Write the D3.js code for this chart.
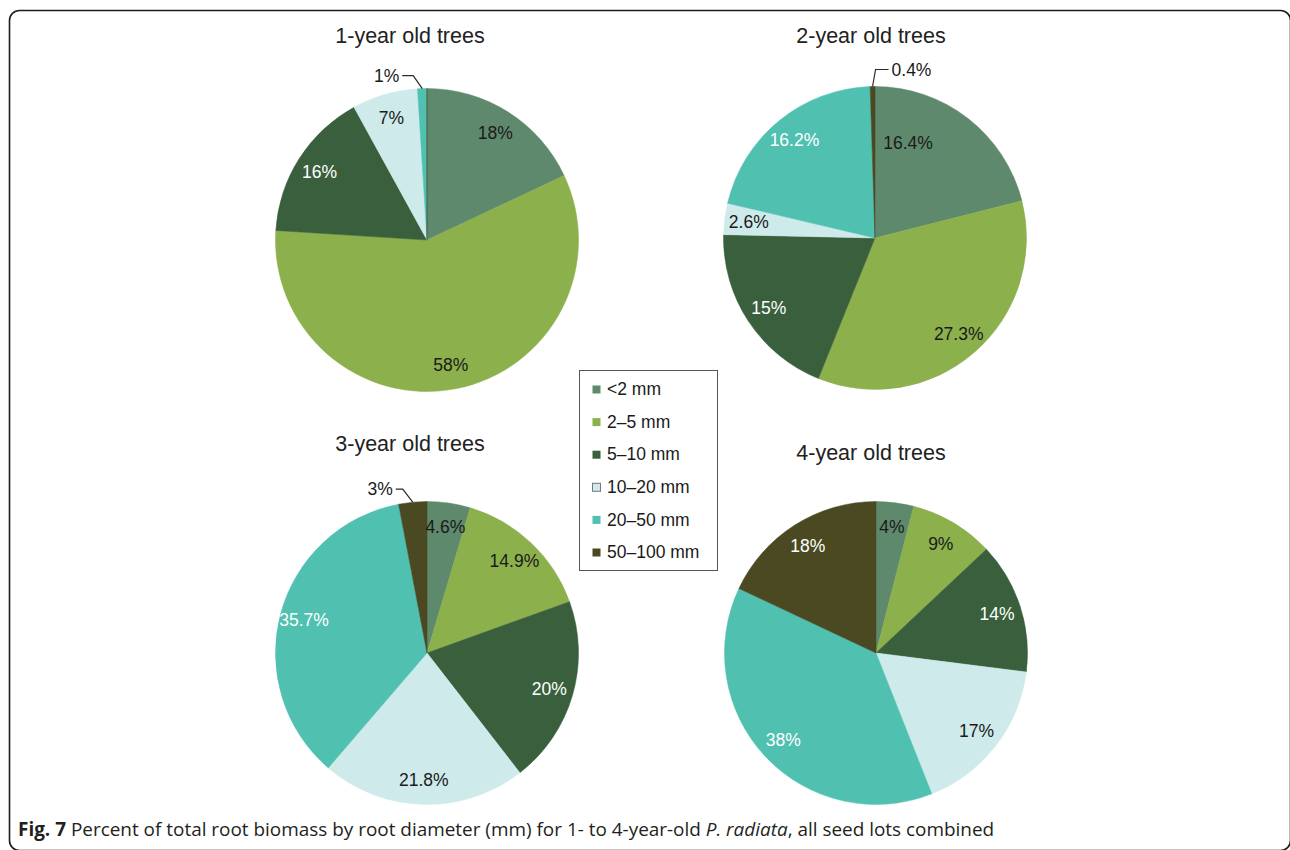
<!DOCTYPE html>
<html>
<head>
<meta charset="utf-8">
<script src="https://cdn.jsdelivr.net/npm/d3@7"></script>
<style>
  html, body { margin: 0; padding: 0; background: #fff; }
  svg { display: block; }
</style>
</head>
<body>
<svg id="fig" width="1290" height="850"></svg>
<script>
// Root diameter classes and their colours
const categories = ["<2 mm", "2–5 mm", "5–10 mm", "10–20 mm", "20–50 mm", "50–100 mm"];
const colors = ["#5f896d", "#8bb04c", "#395f3c", "#ceeaea", "#50c0b1", "#4a4921"];

// Percent of root biomass per class, one array per tree age
const titles = ["1-year old trees", "2-year old trees", "3-year old trees", "4-year old trees"];
const year1 = [18, 58, 16, 7, 1, 0];
const year2 = [16.4, 27.3, 15, 2.6, 16.2, 0.4];
const year3 = [4.6, 14.9, 20, 21.8, 35.7, 3];
const year4 = [4, 9, 14, 17, 38, 18];

const caption = {
  bold: "Fig. 7",
  before: " Percent of total root biomass by root diameter (mm) for 1- to 4-year-old ",
  italic: "P. radiata",
  after: ", all seed lots combined"
};

// Layout of the four panels
const panels = [
  { values: year1, cx: 427, cy: 240, tx: 410, ty: 43 },
  { values: year2, cx: 875, cy: 238, tx: 871, ty: 43 },
  { values: year3, cx: 427, cy: 653, tx: 410, ty: 451 },
  { values: year4, cx: 876, cy: 653, tx: 871, ty: 460 }
];
const R = 151.5;

// Labels that sit away from the slice centroid: [panel, slice] -> tweak
const labelTweaks = {
  "1-0": { da: -18.7, rf: 0.665 }
};
// Small slices labelled outside with a leader line
const callouts = {
  "0-4": { ex: -9, ey: -13, run: -11 },
  "1-5": { ex: 3, ey: -17, run: 13 },
  "2-5": { ex: -10, ey: -13, run: -7 }
};
const whiteText = new Set([2, 4, 5]);

const svg = d3.select("#fig");
const font = "'Liberation Sans', Arial, sans-serif";

svg.append("rect").attr("width", 1290).attr("height", 850).attr("fill", "#fff");

// Rounded frame around the figure
svg.append("rect")
  .attr("x", 9.5).attr("y", 10.5)
  .attr("width", 1281).attr("height", 840)
  .attr("rx", 10).attr("ry", 10)
  .attr("fill", "none").attr("stroke", "#1c1c1c").attr("stroke-width", 1.6);

const pie = d3.pie().sort(null).value(d => d).startAngle(0).endAngle(2 * Math.PI);
const arc = d3.arc().innerRadius(0).outerRadius(R);
const fmt = v => `${v}%`;

panels.forEach((p, pi) => {
  const g = svg.append("g").attr("transform", `translate(${p.cx},${p.cy})`);
  const arcs = pie(p.values);

  g.selectAll("path.slice")
    .data(arcs)
    .join("path")
    .attr("class", "slice")
    .attr("d", arc)
    .attr("fill", (d, i) => colors[i])
    .attr("stroke", (d, i) => colors[i])
    .attr("stroke-width", 0.5);

  arcs.forEach((d, i) => {
    if (d.data <= 0) return;
    const key = `${pi}-${i}`;
    const mid = (d.startAngle + d.endAngle) / 2;
    if (callouts[key]) {
      const c = callouts[key];
      const ax = R * Math.sin(mid), ay = -R * Math.cos(mid);
      const bx = ax + c.ex, by = ay + c.ey;
      const cx2 = bx + c.run;
      g.append("path")
        .attr("d", `M${ax},${ay}L${bx},${by}L${cx2},${by}`)
        .attr("fill", "none").attr("stroke", "#2a2a2a").attr("stroke-width", 1.2);
      g.append("text")
        .attr("x", cx2 + (c.run < 0 ? -3 : 3))
        .attr("y", by)
        .attr("dy", "0.35em")
        .attr("text-anchor", c.run < 0 ? "end" : "start")
        .attr("font-family", font).attr("font-size", 17.5)
        .attr("fill", "#1a1a1a")
        .text(fmt(d.data));
      return;
    }
    const t = labelTweaks[key] || { da: 0, rf: 0.84 };
    const a = mid + t.da * Math.PI / 180;
    const r = t.rf * R;
    g.append("text")
      .attr("x", r * Math.sin(a))
      .attr("y", -r * Math.cos(a))
      .attr("dy", "0.35em")
      .attr("text-anchor", "middle")
      .attr("font-family", font).attr("font-size", 17.5)
      .attr("fill", whiteText.has(i) ? "#ffffff" : "#1a1a1a")
      .text(fmt(d.data));
  });

  svg.append("text")
    .attr("x", p.tx).attr("y", p.ty)
    .attr("text-anchor", "middle")
    .attr("font-family", font).attr("font-size", 21.5)
    .attr("fill", "#222")
    .text(titles[pi]);
});

// Legend
const legend = svg.append("g").attr("transform", "translate(579,370)");
legend.append("rect")
  .attr("x", 0.5).attr("y", 0.5).attr("width", 138).attr("height", 200)
  .attr("fill", "#fff").attr("stroke", "#555").attr("stroke-width", 1);
const rowY = d3.scalePoint().domain(categories).range([19, 182]);
const items = legend.selectAll("g.item").data(categories).join("g")
  .attr("class", "item")
  .attr("transform", d => `translate(0,${rowY(d)})`);
items.append("rect")
  .attr("x", 13.5).attr("y", -3.5).attr("width", 8).attr("height", 8)
  .attr("fill", (d, i) => colors[i])
  .attr("stroke", (d, i) => i === 3 ? "#777" : "none")
  .attr("stroke-width", 1);
items.append("text")
  .attr("x", 28).attr("y", 0).attr("dy", "0.35em")
  .attr("font-family", font).attr("font-size", 17.5)
  .attr("fill", "#1a1a1a")
  .text(d => d);

// Caption line, fitted to the frame width
const cap = svg.append("text")
  .attr("x", 18).attr("y", 836)
  .attr("font-family", "'Open Sans', 'Noto Sans', sans-serif")
  .attr("font-size", 17)
  .attr("fill", "#231f20");
cap.append("tspan").attr("font-weight", "bold").text(caption.bold);
cap.append("tspan").text(caption.before);
cap.append("tspan").attr("font-style", "italic").text(caption.italic);
cap.append("tspan").text(caption.after);
const w = cap.node().getComputedTextLength();
cap.attr("font-size", 17 * 977 / w);
</script>
</body>
</html>
